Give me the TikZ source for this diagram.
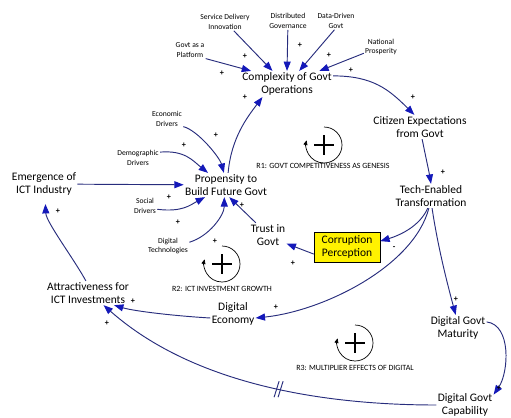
\documentclass[tikz,border=0pt]{standalone}
\usepackage{fontspec}
\setmainfont{Carlito}
\usetikzlibrary{arrows.meta}

\definecolor{lnkblue}{RGB}{40,45,125}
\definecolor{tipblue}{RGB}{20,25,185}
\definecolor{corrfill}{RGB}{255,242,0}

\tikzset{
  loopsym/.pic={
    \draw[line width=0.6pt, -{Triangle[length=4pt,width=3.5pt]}] (0,-18) arc[start angle=270, end angle=555, radius=18];
    \draw[line width=1.8pt] (-10,0) -- (10,0) (0,-10) -- (0,10);
  }
}

\begin{document}
\begin{tikzpicture}[x=0.03cm, y=-0.03cm,
  var/.style={align=center, inner sep=1pt, font=\fontsize{9.8}{11.5}\selectfont},
  drv/.style={align=center, inner sep=1pt, font=\fontsize{6.5}{8}\selectfont},
  lnk/.style={draw=lnkblue, line width=0.8pt, -{Triangle[length=8pt,width=6pt,color=tipblue]}},
  pol/.style={font=\fontsize{7}{7}\bfseries\selectfont, inner sep=0pt},
  looplbl/.style={font=\fontsize{6.8}{7}\selectfont, inner sep=0pt}]
\useasboundingbox (0,0) rectangle (511,417);

\node[var] (cmplx) at (287,84) {Complexity of Govt\\Operations};
\node[drv] (svc) at (225,22) {Service Delivery\\Innovation};
\node[drv] (dist) at (288,21) {Distributed\\Governance};
\node[drv] (ddg) at (336,21) {Data-Driven\\Govt};
\node[drv] (gplat) at (190,50) {Govt as a\\Platform};
\node[drv] (natp) at (381,47) {National\\Prosperity};
\node[var] (citz) at (420,127) {Citizen Expectations\\from Govt};
\node[var] (tech) at (431,196) {Tech-Enabled\\Transformation};
\node[var, draw=black, fill=corrfill, minimum width=1.98cm, minimum height=0.9cm] (corr) at (347,247) {Corruption\\Perception};
\node[var] (trust) at (268,235) {Trust in\\Govt};
\node[var] (prop) at (226,185) {Propensity to\\Build Future Govt};
\node[drv] (econ) at (167,119) {Economic\\Drivers};
\node[drv] (demo) at (138,158) {Demographic\\Drivers};
\node[drv] (soc) at (145,206) {Social\\Drivers};
\node[drv] (dtech) at (168,246) {Digital\\Technologies};
\node[var] (emerg) at (44,184) {Emergence of\\ICT Industry};
\node[var] (attr) at (88,293) {Attractiveness for\\ICT Investments};
\node[var] (deco) at (233,314) {Digital\\Economy};
\node[var] (dgm) at (458,328) {Digital Govt\\Maturity};
\node[var] (dgc) at (465,405) {Digital Govt\\Capability};

% drivers of complexity
\draw[lnk] (svc.-45) -- (cmplx.138);
\draw[lnk] (dist) -- (cmplx.north);
\draw[lnk] (ddg.-100) -- (cmplx.47);
\draw[lnk] (natp.-160) -- (cmplx.22);
\draw[lnk] (gplat.south east) -- (cmplx.160);

\draw[lnk] (cmplx.10) .. controls +(40,0) and +(-25,-25) .. (citz.115);
\draw[lnk] (prop.80) .. controls +(3,-35) and +(-15,20) .. (cmplx.208);
\draw[lnk] (citz.-80) .. controls +(3,15) and +(-2,-12) .. (tech.north);
\draw[lnk] (tech.-105) .. controls +(-8,18) and +(20,-6) .. (corr.10);
\draw[lnk] (tech.-100) .. controls +(-15,58) and +(68,-7) .. (deco.-10);
\draw[lnk] (tech.-85) .. controls +(6,40) and +(-8,-30) .. (dgm.100);
\draw[lnk] (dgm.12) .. controls +(25,3) and +(15,-22) .. (dgc.20);
\draw[lnk] (dgc.west) .. controls +(-106,0) and +(93,82) .. (attr.-38) coordinate[pos=0.46] (dly);
\draw[lnkblue, line width=0.8pt] (dly) ++(-5,8) -- ++(5,-16) (dly) ++(-1,8) -- ++(5,-16);
\draw[lnk] (deco.190) .. controls +(-35,-2) and +(20,6) .. (attr.-25);
\draw[lnk, shorten >=6pt] (attr.100) .. controls +(-12,-22) and +(1,25) .. (emerg.-85);
\draw[lnk] (emerg) -- (prop);

% drivers of propensity
\draw[lnk] (econ.-25) .. controls +(15,4) and +(-4,-15) .. (prop.100);
\draw[lnk] (demo.15) .. controls +(25,-2) and +(-15,-12) .. (prop.146);
\draw[lnk] (soc.-15) .. controls +(25,3) and +(-15,8) .. (prop.210);
\draw[lnk] (dtech.10) .. controls +(20,-6) and +(0,18) .. (prop.-98);
\draw[lnk] (trust.135) -- (prop.-75);
\draw[lnk] (corr.192) -- (trust.-25);

% polarities
\foreach \px/\py [count=\i] in {245/56, 222/73, 300/45, 329/55, 351/70, 413/97, 245/97,
    443/172, 216/135, 184/145, 169/197, 178/222, 242/205, 215/241, 293/263, 276/307,
    456/299, 499/388, 133/301, 107/323, 58/211}
  \node[pol] (pl\i) at (\px,\py) {+};
\node[pol] (mn1) at (394,248) {-};

% loops
\pic at (324,145) {loopsym};
\node[looplbl] (r1) at (323,166) {R1: GOVT COMPETITIVENESS AS GENESIS};
\pic at (222,264) {loopsym};
\node[looplbl] (r2) at (222,289) {R2: ICT INVESTMENT GROWTH};
\pic at (355,343) {loopsym};
\node[looplbl] (r3) at (355,368) {R3: MULTIPLIER EFFECTS OF DIGITAL};
\end{tikzpicture}
\end{document}
